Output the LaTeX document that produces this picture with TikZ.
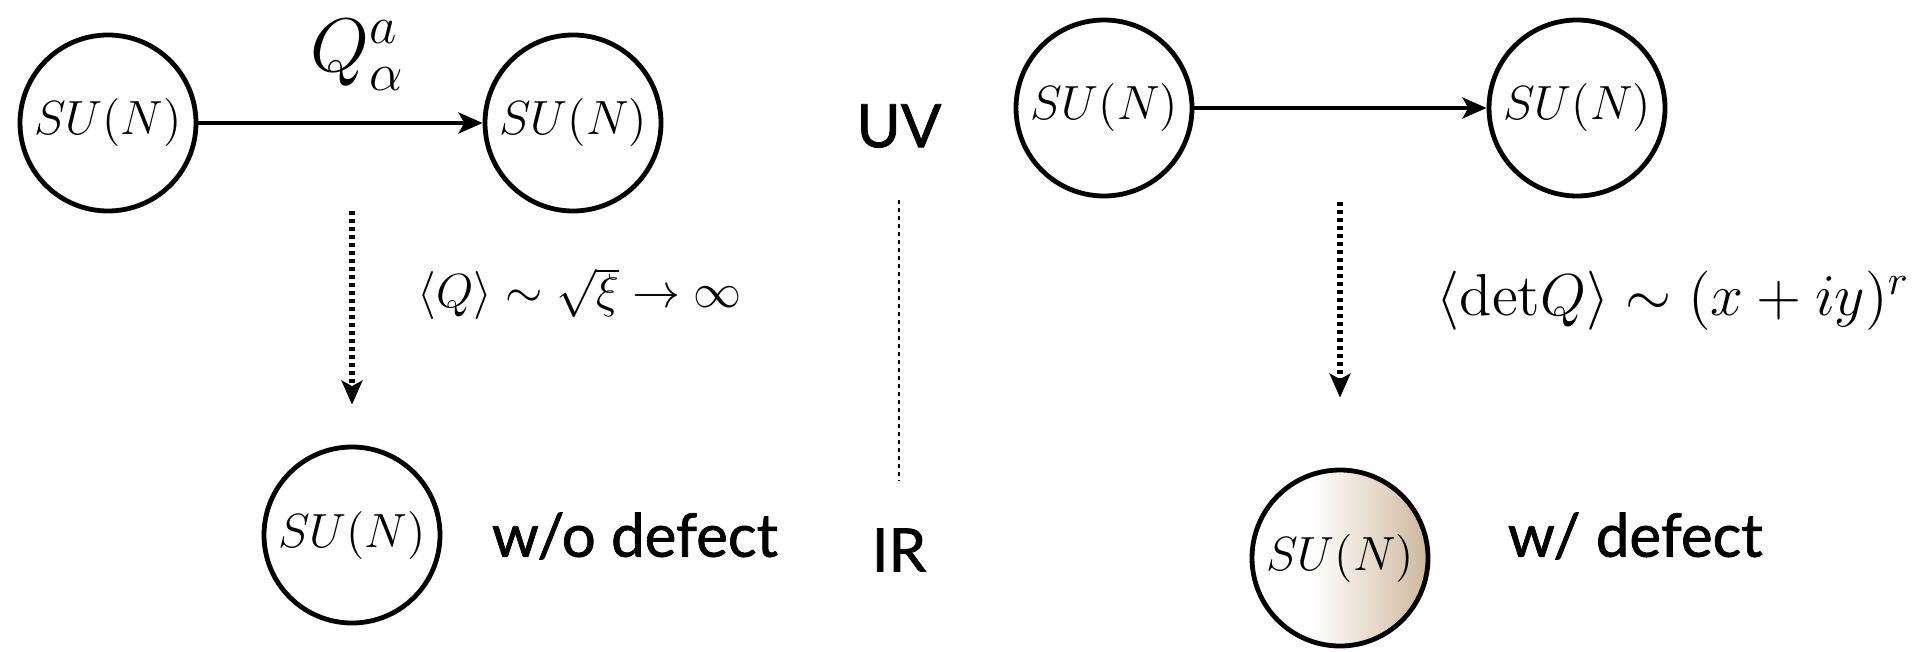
\RequirePackage{fix-cm}
\documentclass[tikz,border=0pt]{standalone}
\usepackage{fontspec}
\newfontfamily\lato{Lato}[FakeBold=1.2]
\usetikzlibrary{arrows.meta}
\definecolor{defectc}{RGB}{206,184,156}
\pgfdeclarehorizontalshading{defectsh}{100bp}{color(0bp)=(white); color(42bp)=(white); color(75bp)=(defectc); color(100bp)=(defectc)}
\tikzset{
  cnode/.style={circle, draw, line width=1.2pt, minimum size=44pt, inner sep=0pt, font=\fontsize{12}{14}\selectfont},
  sanslabel/.style={font=\lato\fontsize{15}{18}\selectfont, inner sep=0pt},
  mathlabel/.style={font=\fontsize{12}{14}\selectfont, inner sep=0pt},
  solidarrow/.style={line width=1.2pt, -{Stealth[length=6pt,width=5.2pt,inset=1.4pt]}},
  dotarrow/.style={line width=1.3pt, dash pattern=on 1.1pt off 0.9pt, -{Stealth[length=6pt,width=5.2pt,inset=1.4pt]}},
  thindots/.style={line width=0.5pt, dash pattern=on 1pt off 1pt},
  defectfill/.style={shade, shading=defectsh, shading angle=0}
}
\begin{document}
\begin{tikzpicture}[x=0.25pt,y=-0.25pt]
\useasboundingbox (0,0) rectangle (1924,652);
% left part
\node[cnode] (c1) at (108,123) {$SU(N)$};
\node[cnode] (c2) at (573,123) {$SU(N)$};
\node[cnode] (c3) at (352,535) {$SU(N)$};
\draw[solidarrow] (c1) -- (c2);
\node[font=\fontsize{19}{22}\selectfont, inner sep=0pt] (ql) at (358,55) {$Q^a_\alpha$};
\coordinate (d1s) at (352,211);
\draw[dotarrow, shorten >=10pt] (d1s) -- (c3);
\node[mathlabel, anchor=west] (vev1) at (417,294) {$\langle Q\rangle \sim \sqrt{\xi} \to \infty$};
\node[sanslabel, anchor=west] (wo) at (491,536) {w/o defect};
% middle
\node[sanslabel] (uv) at (899,126) {UV};
\node[sanslabel] (ir) at (899,550) {IR};
\coordinate (m1) at (899,200);
\coordinate (m2) at (899,481);
\draw[thindots] (m1) -- (m2);
% right part
\node[cnode] (c4) at (1104,108) {$SU(N)$};
\node[cnode] (c5) at (1577,108) {$SU(N)$};
\draw[solidarrow] (c4) -- (c5);
\node[cnode, defectfill] (c6) at (1340,558) {$SU(N)$};
\coordinate (d2s) at (1340,202);
\draw[dotarrow, shorten >=17.5pt] (d2s) -- (c6);
\node[mathlabel, font=\fontsize{14.8}{17}\selectfont, anchor=west] (vev2) at (1436,301) {$\langle \mathrm{det} Q\rangle \sim (x+iy)^r$};
\node[sanslabel, anchor=west] (w) at (1507,536) {w/ defect};
\end{tikzpicture}
\end{document}
